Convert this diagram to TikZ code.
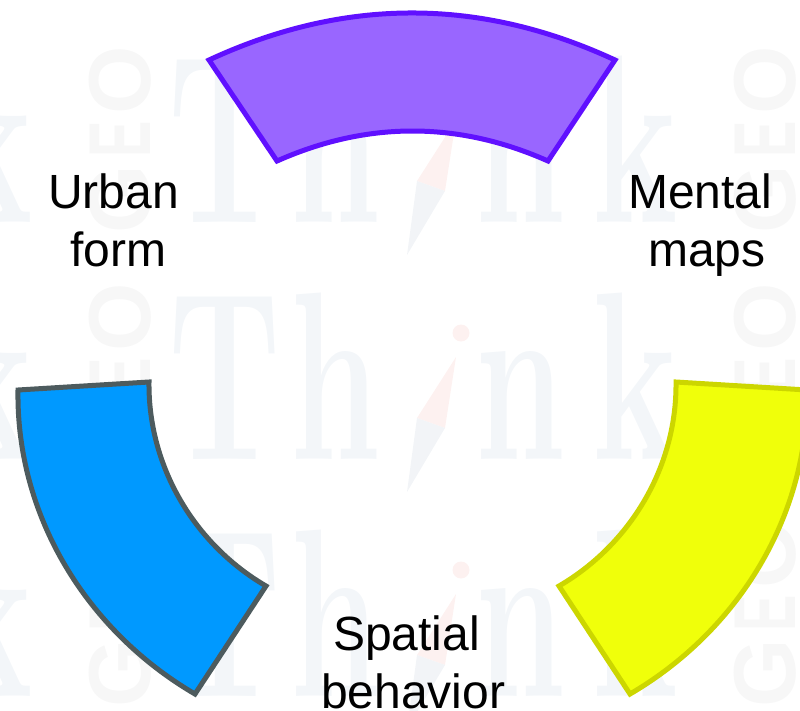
\documentclass[tikz,border=0pt]{standalone}
\usepackage{fontspec}
\usepackage{graphicx}
\newfontfamily\labelfont{Liberation Sans}
\newfontfamily\markfont{Latin Modern Roman}
\definecolor{markblue}{HTML}{F3F6F9}
\definecolor{markgrey}{HTML}{F7F7F7}
\definecolor{markred}{HTML}{FDF1F0}
\definecolor{markneedle}{HTML}{F2F4F7}
\definecolor{purplefill}{HTML}{9966FF}
\definecolor{purpleline}{HTML}{6010FF}
\definecolor{bluefill}{HTML}{0099FF}
\definecolor{blueline}{HTML}{4D5B5E}
\definecolor{yellowfill}{HTML}{F0FF0A}
\definecolor{yellowline}{HTML}{CCD600}
\tikzset{
  markletter/.style={text=markblue,anchor=base,inner sep=0pt,xscale=.6,transform shape,font=\markfont\bfseries\fontsize{240}{240}\selectfont},
  geoletter/.style={text=markgrey,anchor=center,inner sep=0pt,rotate=90,font=\labelfont\bfseries\fontsize{88}{88}\selectfont},
  segment/.style={line width=5pt,line join=miter,miter limit=10},
  caption/.style={align=left,inner sep=0pt,anchor=north west,font=\labelfont\fontsize{48}{58}\selectfont}
}
\begin{document}
\begin{tikzpicture}[x=1pt,y=-1pt]
\useasboundingbox (0,0) rectangle (800,710);
\clip (0,0) rectangle (800,710);
% faint tiled watermark
\foreach \r [evaluate=\r as \dy using {\r*237}] in {0,1,2}{
  \begin{scope}[shift={(0,\dy)}]
    \node[markletter] (t\r) at (225,222) {T};
    \node[markletter] (h\r) at (335,222) {h};
    \node[markletter] (n\r) at (520,222) {n};
    \node[markletter] (k\r) at (635,222) {k};
    \node[markletter] (w\r) at (-10,222) {k};
    \fill[markred] (461,96) circle (8.5);
    \fill[markred] (456,120) -- (417,181) -- (445,191) -- cycle;
    \fill[markneedle] (417,181) -- (445,191) -- (407,255) -- cycle;
    \foreach \gx/\gn in {120/a,765/b}{
      \node[geoletter] (o\gn\r) at (\gx,80) {O};
      \node[geoletter] (e\gn\r) at (\gx,139) {\scalebox{.62}[1]{E}};
      \node[geoletter] (g\gn\r) at (\gx,199) {G};
    }
  \end{scope}
}
% purple segment
\draw[segment,draw=purpleline,fill=purplefill]
  (209,60) .. controls (344,-2.7) and (480,-2.7) .. (615,60)
  -- (548,161) .. controls (458,121) and (367,121) .. (277,161) -- cycle;
% blue segment
\draw[segment,draw=blueline,fill=bluefill]
  (18,390) .. controls (16,516) and (87,631) .. (195,694)
  -- (266,586) .. controls (194,544) and (148,466) .. (149,382) -- cycle;
% yellow segment
\draw[segment,draw=yellowline,fill=yellowfill]
  (807,390) .. controls (809,516) and (738,631) .. (630,694)
  -- (559,586) .. controls (631,544) and (677,466) .. (676,382) -- cycle;
% labels
\node[caption] (urban) at (48,174) {Urban\\\hspace*{22pt}form};
\node[caption] (mental) at (628,174) {Mental\\\hspace*{20pt}maps};
\node[caption] (spatial) at (333,616) {Spatial\\\hspace*{-12pt}behavior};
\end{tikzpicture}
\end{document}
